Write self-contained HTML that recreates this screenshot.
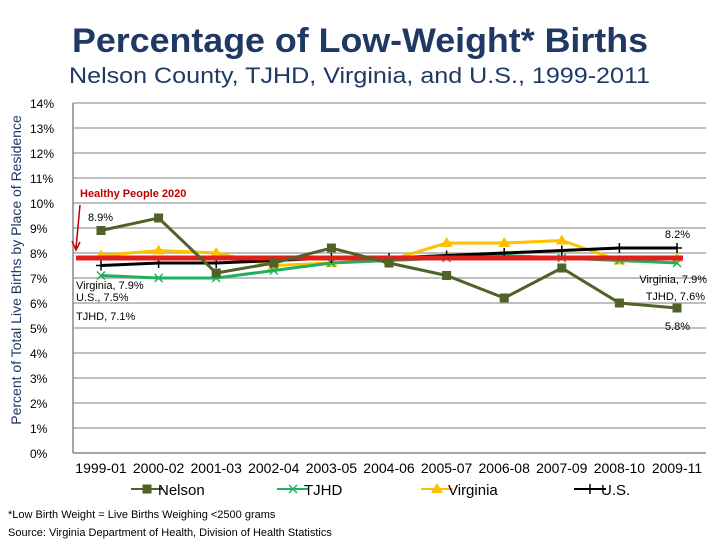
<!DOCTYPE html>
<html><head><meta charset="utf-8"><style>
body{margin:0;background:#fff;font-family:"Liberation Sans",Arial,sans-serif}
svg text{font-family:"Liberation Sans",Arial,sans-serif}
</style></head><body>
<svg id="c" width="720" height="540" xmlns="http://www.w3.org/2000/svg">
<text x="72" y="52" textLength="576" lengthAdjust="spacingAndGlyphs" font-size="34" font-weight="bold" fill="#1f3864">Percentage of Low-Weight* Births</text>
<text x="69" y="83" textLength="581" lengthAdjust="spacingAndGlyphs" font-size="22" fill="#1f3864">Nelson County, TJHD, Virginia, and U.S., 1999-2011</text>
<text transform="translate(21,270) rotate(-90)" text-anchor="middle" font-size="14" fill="#1f3864">Percent of Total Live Births by Place of Residence</text>
<g id="grid"></g><g id="marks"></g>
<text x="8" y="518" font-size="11">*Low Birth Weight = Live Births Weighing &lt;2500 grams</text>
<text x="8" y="536" font-size="11">Source: Virginia Department of Health, Division of Health Statistics</text>
</svg>
<script>
const categories=["1999-01","2000-02","2001-03","2002-04","2003-05","2004-06","2005-07","2006-08","2007-09","2008-10","2009-11"];
const nelson=[8.9,9.4,7.2,7.6,8.2,7.6,7.1,6.2,7.4,6.0,5.8];
const tjhd=[7.1,7.0,7.0,7.3,7.6,7.7,7.8,7.9,7.8,7.7,7.6];
const virginia=[7.9,8.1,8.0,7.5,7.6,7.7,8.4,8.4,8.5,7.7,7.8];
const us=[7.5,7.6,7.6,7.7,7.8,7.8,7.9,8.0,8.1,8.2,8.2];
const target=[7.8];
const yTicks=[0,1,2,3,4,5,6,7,8,9,10,11,12,13,14];
const NS="http://www.w3.org/2000/svg";
const X=i=>101+i*57.6, Y=v=>453-v*25;
function mk(t,a,p){const e=document.createElementNS(NS,t);for(const k in a)e.setAttribute(k,a[k]);(p||document.getElementById('marks')).appendChild(e);return e;}
const g=document.getElementById('grid');
yTicks.forEach(v=>{
 const l=mk('line',{x1:73,x2:706,y1:Y(v),y2:Y(v),stroke:v===0?'#888':'#aaa','stroke-width':1.5},g);
 
 
 const t=mk('text',{x:30,y:Y(v)+5,'font-size':12},g);t.textContent=v+'%';
 
 
});
mk('line',{x1:73,x2:73,y1:Y(14),y2:Y(0),stroke:'#888','stroke-width':1.5},g);
categories.forEach((c,i)=>{const t=mk('text',{x:X(i),y:473,'font-size':14,'text-anchor':'middle'},g);t.textContent=c;
 
 });
function series(d,color,name,marker){
 const pl=mk('polyline',{points:d.map((v,i)=>X(i)+','+Y(v)).join(' '),fill:'none',stroke:color,'stroke-width':3});
 
 
 d.forEach((v,i)=>{const m=marker(X(i),Y(v),color);
  
  });
}
const sq=(x,y,c)=>mk('rect',{x:x-4.5,y:y-4.5,width:9,height:9,fill:c});
const xm=(x,y,c)=>mk('path',{d:`M${x-4},${y-4}L${x+4},${y+4}M${x-4},${y+4}L${x+4},${y-4}`,stroke:c,'stroke-width':1.5});
const tri=(x,y,c)=>mk('path',{d:`M${x},${y-6}L${x+6},${y+4}L${x-6},${y+4}Z`,fill:c});
const pl=(x,y,c)=>mk('path',{d:`M${x-5},${y}L${x+5},${y}M${x},${y-5}L${x},${y+5}`,stroke:c,'stroke-width':1.5});
series(virginia,'#ffc000','virginia',tri);
series(tjhd,'#20b060','tjhd',xm);
series(us,'#000','us',pl);
const hp=mk('line',{x1:X(0)-25,x2:X(10)+6,y1:Y(target[0]),y2:Y(target[0]),stroke:'#e0201a','stroke-width':5});


series(nelson,'#4f6228','nelson',sq);
const ar=mk('path',{d:'M80,205 L76,248 M72,241 L76,250 L80,242',stroke:'#c00000','stroke-width':1.5,fill:'none'});


function lab(x,y,s,n,anchor,color,w){const t=mk('text',{x:x,y:y,'font-size':11,'text-anchor':anchor||'start',fill:color||'#000','font-weight':w||'normal'});t.textContent=s;
 
 }
lab(80,197,'Healthy People 2020','healthy-people-label','start','#c00000','bold');
lab(88,221,'8.9%','label-nelson-first');
lab(690,238,'8.2%','label-us-last','end');
lab(76,289,'Virginia, 7.9%','label-virginia-first');
lab(76,301,'U.S., 7.5%','label-us-first');
lab(76,320,'TJHD, 7.1%','label-tjhd-first');
lab(707,283,'Virginia, 7.9%','label-virginia-last','end');
lab(705,300,'TJHD, 7.6%','label-tjhd-last','end');
lab(690,330,'5.8%','label-nelson-last','end');
const leg=[['Nelson','#4f6228',sq,147],['TJHD','#20b060',xm,293],['Virginia','#ffc000',tri,437],['U.S.','#000',pl,590]];
leg.forEach(([n,c,f,x])=>{
 const l=mk('line',{x1:x-16,x2:x+16,y1:489,y2:489,stroke:c,'stroke-width':2});
 
 
 const m=f(x,489,c);
 
 
 const t=mk('text',{x:x+11,y:495,'font-size':15});t.textContent=n;
 
 
});
</script>
</body></html>
